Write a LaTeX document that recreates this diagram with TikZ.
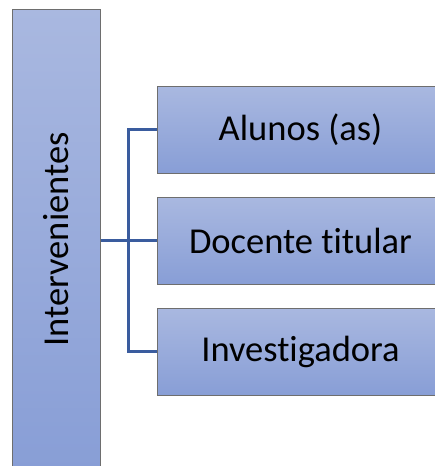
\documentclass[tikz,border=0pt]{standalone}
\usepackage{fontspec}
\setmainfont{Carlito}[RawFeature={-liga}]
\usetikzlibrary{positioning,calc}
\definecolor{boxtop}{HTML}{A9B8E0}
\definecolor{boxbot}{HTML}{889ED6}
\definecolor{boxline}{HTML}{6E6E6E}
\definecolor{linkblue}{HTML}{3A5C9E}
\tikzstyle{box}  =[draw=boxline, line width=1pt, inner sep=0pt,
                   top color=boxtop, bottom color=boxbot,
                   font=\fontsize{36.5}{40}\selectfont]
\tikzstyle{item} =[box, minimum width=287pt, minimum height=87pt]
\tikzstyle{link} =[draw=linkblue, line width=2.2pt]

\begin{document}
\begin{tikzpicture}[x=1pt, y=-1pt, node distance=23pt]
        \useasboundingbox[fill=white] (0,0) rectangle (434,466);
                \node[box, minimum width=88pt, minimum height=461pt] (int) at (56,239.5)
                        {\rotatebox{90}{Intervenientes}};
                \node[item] (alu) at (300.5,129.5) {Alunos (as)};
                \node[item] (doc) [below= of alu] {Docente titular};
                \node[item] (inv) [below= of doc] {Investigadora};

                \coordinate (mid) at ($(int.east)!0.5!(doc.west)$);
                \draw[link] (int.east |- doc.west) -- (doc.west);
                \draw[link] (alu.west) -| (mid) |- (inv.west);
        \end{tikzpicture}
\end{document}
